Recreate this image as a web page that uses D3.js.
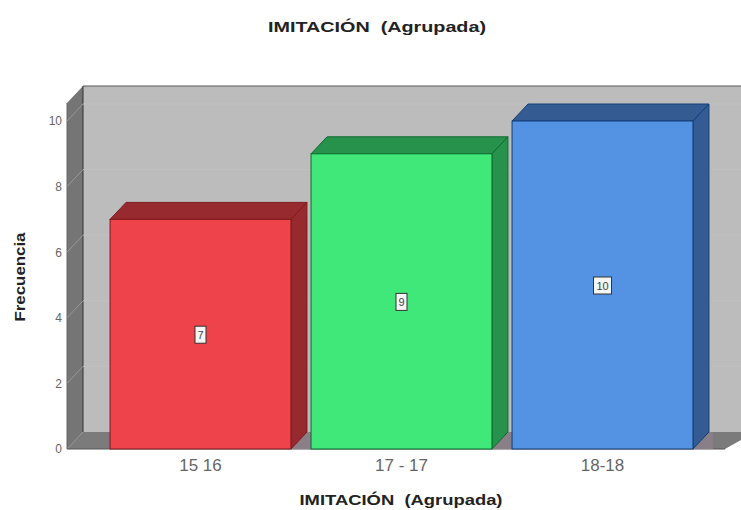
<!DOCTYPE html>
<html>
<head>
<meta charset="utf-8">
<script src="https://cdn.jsdelivr.net/npm/d3@7"></script>
<style>
html, body { margin: 0; padding: 0; background: #fff; }
svg { display: block; }
text { font-family: "Liberation Sans", Arial, sans-serif; white-space: pre; }
</style>
</head>
<body>
<div id="chart"></div>
<script>
var categories = ["15 16", "17 - 17", "18-18"];
var counts = [7, 9, 10];
var yTicks = [0, 2, 4, 6, 8, 10];
var faceColors = ["#ee434a", "#3fe878", "#5493e3"];
var sideColors = ["#962a2e", "#27924c", "#355c92"];
var edgeColors = ["#7e1a1e", "#0f6b30", "#123f78"];

var w = 741,
	h = 510;
var depthX = 16,
	depthY = -17;

var root = d3.select("#chart").append("svg").attr("width", w).attr("height", h);

var x = d3.scaleBand().domain(categories).range([100, 703]).paddingInner(0.1).paddingOuter(0.05);
var y = d3.scaleLinear().domain([0, 10]).range([449, 121]);

function poly(layer, pts, fill, stroke, sw) {
	return layer.append("polygon")
		.attr("points", pts.map(function(p) { return p.join(","); }).join(" "))
		.attr("fill", fill)
		.attr("stroke", stroke || "none")
		.attr("stroke-width", sw || 0);
}

// walls
var wallLeft = 67,
	wallRight = 725,
	wallTop = 103,
	wallBottom = y(0);
var walls = root.append("g");
poly(walls, [[wallLeft + depthX, wallTop + depthY], [741, wallTop + depthY], [741, wallBottom + depthY], [wallLeft + depthX, wallBottom + depthY]], "#bcbcbc");
walls.append("line").attr("x1", wallLeft + depthX).attr("x2", 741)
	.attr("y1", wallTop + depthY).attr("y2", wallTop + depthY).attr("stroke", "#5a5a5a").attr("stroke-width", 1.2);
poly(walls, [[wallLeft, wallTop], [wallLeft + depthX, wallTop + depthY], [wallLeft + depthX, wallBottom + depthY], [wallLeft, wallBottom]], "#757575");
poly(walls, [[wallLeft, wallBottom], [wallLeft + depthX, wallBottom + depthY], [741, wallBottom + depthY], [741, wallBottom - 9], [wallRight, wallBottom]], "#7b7b7b");
walls.append("line").attr("x1", wallLeft + depthX).attr("x2", wallLeft + depthX)
	.attr("y1", wallTop + depthY).attr("y2", wallBottom + depthY).attr("stroke", "#333").attr("stroke-width", 1);
walls.append("line").attr("x1", wallLeft).attr("x2", wallLeft)
	.attr("y1", wallTop).attr("y2", wallBottom).attr("stroke", "#666").attr("stroke-width", 1);
walls.append("line").attr("x1", wallLeft).attr("x2", wallRight)
	.attr("y1", wallBottom).attr("y2", wallBottom).attr("stroke", "#555").attr("stroke-width", 1);

// faint grid on the walls
var grid = root.append("g");
yTicks.slice(1).forEach(function(t) {
	grid.append("line").attr("x1", wallLeft + depthX).attr("x2", 741)
		.attr("y1", y(t) + depthY).attr("y2", y(t) + depthY).attr("stroke", "#c0c0c0").attr("stroke-width", 1);
	grid.append("line").attr("x1", wallLeft).attr("x2", wallLeft + depthX)
		.attr("y1", y(t)).attr("y2", y(t) + depthY).attr("stroke", "#989898").attr("stroke-width", 1);
});

// bars
var bars = root.append("g");
categories.forEach(function(c, i) {
	var x0 = x(c),
		x1 = x0 + x.bandwidth(),
		top = y(counts[i]),
		base = y(0);
	// shadow on the floor next to the bar
	poly(bars, [[x1, base], [x1 + depthX, base + depthY], [x1 + depthX + 4, base + depthY], [x1 + 20, base]], "#8a7f86");
	poly(bars, [[x0, top], [x0 + depthX, top + depthY], [x1 + depthX, top + depthY], [x1, top]], sideColors[i], edgeColors[i], 1);
	poly(bars, [[x1, top], [x1 + depthX, top + depthY], [x1 + depthX, base + depthY], [x1, base]], sideColors[i], edgeColors[i], 1);
	bars.append("rect").attr("x", x0).attr("y", top).attr("width", x.bandwidth()).attr("height", base - top)
		.attr("fill", faceColors[i]).attr("stroke", edgeColors[i]).attr("stroke-width", 1);
});

// value labels
var labels = root.append("g");
categories.forEach(function(c, i) {
	var cx = x(c) + x.bandwidth() / 2,
		cy = y(counts[i] / 2) + 0.5;
	var bw = counts[i] > 9 ? 18 : 11;
	labels.append("rect").attr("x", cx - bw / 2).attr("y", cy - 8.5).attr("width", bw).attr("height", 17)
		.attr("fill", "#f4f6f4").attr("stroke", "#333").attr("stroke-width", 1);
	labels.append("text").attr("x", cx).attr("y", cy + 4).attr("text-anchor", "middle")
		.attr("font-size", 11).attr("fill", "#444").text(counts[i]);
});

// axes
var yAxis = root.append("g").attr("transform", "translate(" + wallLeft + ",0)")
	.call(d3.axisLeft(y).tickValues(yTicks).tickSize(0).tickPadding(5));
yAxis.select(".domain").remove();
yAxis.selectAll("text").attr("font-size", 12).attr("fill", "#666").style("font-family", "\"Liberation Sans\", Arial, sans-serif");

var xAxis = root.append("g").attr("transform", "translate(0," + y(0) + ")")
	.call(d3.axisBottom(x).tickSize(0).tickPadding(10));
xAxis.select(".domain").remove();
xAxis.selectAll("text").attr("font-size", 17).attr("fill", "#666").style("font-family", "\"Liberation Sans\", Arial, sans-serif");

// titles
root.append("text").attr("x", 377).attr("y", 32).attr("text-anchor", "middle")
	.attr("font-size", 14.5).attr("font-weight", "bold").attr("fill", "#222")
	.attr("textLength", 218).attr("lengthAdjust", "spacingAndGlyphs").text("IMITACIÓN  (Agrupada)");
root.append("text").attr("x", 401).attr("y", 505).attr("text-anchor", "middle")
	.attr("font-size", 15).attr("font-weight", "bold").attr("fill", "#222")
	.attr("textLength", 203).attr("lengthAdjust", "spacingAndGlyphs").text("IMITACIÓN  (Agrupada)");
root.append("text").attr("transform", "translate(25,277) rotate(-90)").attr("text-anchor", "middle")
	.attr("font-size", 15).attr("font-weight", "bold").attr("fill", "#222")
	.attr("textLength", 89).attr("lengthAdjust", "spacingAndGlyphs").text("Frecuencia");
</script>
</body>
</html>
